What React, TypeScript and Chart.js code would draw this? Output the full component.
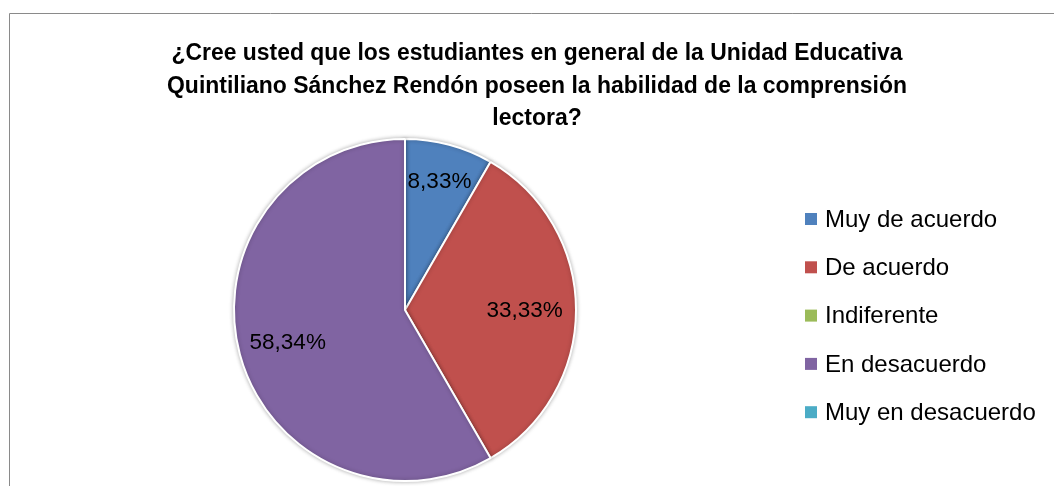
import React, { useEffect, useRef } from "react";
import { Chart, registerables } from "chart.js";

Chart.register(...registerables);

const categories = ["Muy de acuerdo", "De acuerdo", "Indiferente", "En desacuerdo", "Muy en desacuerdo"];
const values = [8.33, 33.33, 0, 58.34, 0];
const valueLabels = ["8,33%", "33,33%", "", "58,34%", ""];
const colors = ["#4F81BD", "#C0504D", "#9BBB59", "#8064A2", "#4BACC6"];
const titleLines = [
  "¿Cree usted que los estudiantes en general de la Unidad Educativa",
  "Quintiliano Sánchez Rendón poseen la habilidad de la comprensión",
  "lectora?",
];

const W = 1054;
const H = 486;

export default function App() {
  const ref = useRef<HTMLCanvasElement | null>(null);

  useEffect(() => {
    document.body.style.margin = "0";
    document.body.style.overflow = "hidden";
    const canvas = ref.current;
    if (!canvas) return;

    const framePlugin = {
      id: "frame",
      beforeDraw(chart: any) {
        const ctx = chart.ctx;
        ctx.save();
        ctx.fillStyle = "#ffffff";
        ctx.fillRect(0, 0, W, H);
        ctx.strokeStyle = "#8a8a8a";
        ctx.lineWidth = 1;
        ctx.beginPath();
        ctx.moveTo(9.5, H);
        ctx.lineTo(9.5, 13.5);
        ctx.lineTo(W, 13.5);
        ctx.stroke();
        // title
        ctx.fillStyle = "#000000";
        ctx.font = "bold 23px 'Liberation Sans', Arial, sans-serif";
        ctx.textAlign = "center";
        ctx.textBaseline = "alphabetic";
        const widths = [731, 740, 90];
        const baselines = [60, 93, 125];
        titleLines.forEach((t, i) => {
          ctx.fillText(t, 537, baselines[i], widths[i]);
        });
        // legend
        ctx.font = "24px 'Liberation Sans', Arial, sans-serif";
        ctx.textAlign = "left";
        ctx.textBaseline = "middle";
        categories.forEach((c, i) => {
          const cy = 219 + i * 48.3;
          ctx.fillStyle = colors[i];
          ctx.fillRect(805, cy - 6, 12, 12);
          ctx.fillStyle = "#000000";
          ctx.fillText(c, 825, cy + 1);
        });
        ctx.restore();
      },
      beforeDatasetsDraw(chart: any) {
        const ctx = chart.ctx;
        ctx.save();
        ctx.shadowColor = "rgba(0,0,0,0.28)";
        ctx.shadowBlur = 4;
        ctx.shadowOffsetX = 0;
        ctx.shadowOffsetY = 0;
      },
      afterDatasetsDraw(chart: any) {
        const ctx = chart.ctx;
        ctx.restore();
        const meta = chart.getDatasetMeta(0);
        const factors = [0.78, 0.7, 0.7, 0.71, 0.7];
        ctx.save();
        ctx.fillStyle = "#000000";
        ctx.font = "22.5px 'Liberation Sans', Arial, sans-serif";
        ctx.textAlign = "center";
        ctx.textBaseline = "middle";
        meta.data.forEach((arc: any, i: number) => {
          if (!valueLabels[i]) return;
          const p = arc.getProps(["x", "y", "startAngle", "endAngle", "outerRadius"], true);
          const mid = (p.startAngle + p.endAngle) / 2;
          const r = p.outerRadius * factors[i];
          ctx.fillText(valueLabels[i], p.x + Math.cos(mid) * r, p.y + Math.sin(mid) * r + 1);
        });
        ctx.restore();
      },
    };

    const chart = new Chart(canvas, {
      type: "pie",
      data: {
        labels: categories,
        datasets: [
          {
            data: values,
            backgroundColor: colors,
            borderColor: "#ffffff",
            borderWidth: 2,
          },
        ],
      },
      options: {
        responsive: false,
        animation: false,
        layout: { padding: { left: 232, right: W - 578, top: 138, bottom: H - 482 } },
        plugins: {
          legend: { display: false },
          title: { display: false },
          tooltip: { enabled: false },
        },
        events: [],
      },
      plugins: [framePlugin],
    });
    return () => chart.destroy();
  }, []);

  return (
    <div style={{ width: W, height: H }}>
      <canvas ref={ref} width={W} height={H} style={{ display: "block", width: W, height: H }} />
    </div>
  );
}
